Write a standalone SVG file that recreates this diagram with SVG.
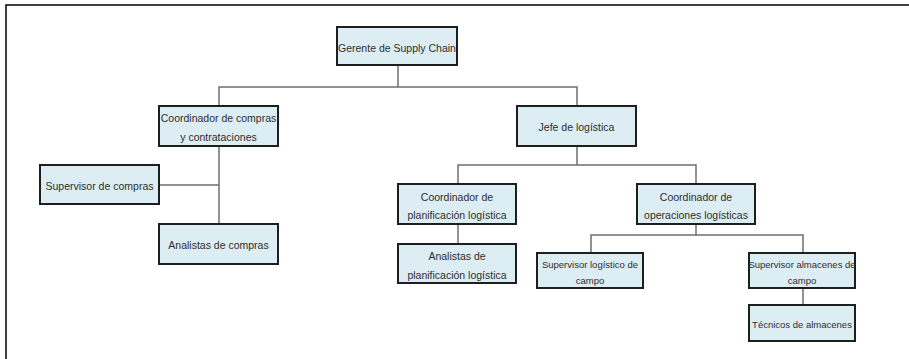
<svg xmlns="http://www.w3.org/2000/svg" width="909" height="359" viewBox="0 0 909 359">
  <style>
    .box { fill: #dcedf3; stroke: #1e1e1e; stroke-width: 2; }
    .lbl { font-family: "Liberation Sans", Arial, sans-serif; font-size: 10.5px; fill: #2e2e2e; text-anchor: middle; }
    .sm { font-size: 9.5px; }
    .conn { fill: none; stroke: #6f6f6f; stroke-width: 1.5; }
    .frame { fill: none; stroke: #000; stroke-width: 1.5; }
  </style>
  <rect width="909" height="359" fill="#fff"/>
  <path class="frame" d="M6,359 V5 H909"/>

  <g id="connectors">
    <path class="conn" d="M398,65 V87 M219,106 V87 H577 V106"/>
    <path class="conn" d="M219,146 V224 M159,185 H219"/>
    <path class="conn" d="M577,146 V165 M458,184 V165 H696 V184"/>
    <path class="conn" d="M458,224 V244"/>
    <path class="conn" d="M696,224 V235 M591,253 V235 H803 V253"/>
    <path class="conn" d="M803,288 V305"/>
  </g>

  <g id="gerente">
    <rect class="box" x="337" y="27" width="120" height="38"/>
    <text class="lbl" x="397" y="51.5">Gerente de Supply Chain</text>
  </g>
  <g id="coord-compras">
    <rect class="box" x="159" y="106" width="119" height="40"/>
    <text class="lbl" x="218.5" y="122">Coordinador de compras</text>
    <text class="lbl" x="218.5" y="141">y contrataciones</text>
  </g>
  <g id="jefe-logistica">
    <rect class="box" x="517" y="106" width="119" height="40"/>
    <text class="lbl" x="576.5" y="130.5">Jefe de logística</text>
  </g>
  <g id="supervisor-compras">
    <rect class="box" x="40" y="165" width="119" height="39"/>
    <text class="lbl" x="99.5" y="190">Supervisor de compras</text>
  </g>
  <g id="analistas-compras">
    <rect class="box" x="159" y="224" width="119" height="40"/>
    <text class="lbl" x="218.5" y="249">Analistas de compras</text>
  </g>
  <g id="coord-planificacion">
    <rect class="box" x="398" y="184" width="118" height="40"/>
    <text class="lbl" x="457" y="200.5">Coordinador de</text>
    <text class="lbl" x="457" y="219">planificación logística</text>
  </g>
  <g id="coord-operaciones">
    <rect class="box" x="637" y="184" width="118" height="40"/>
    <text class="lbl" x="696" y="200.5">Coordinador de</text>
    <text class="lbl" x="696" y="219">operaciones logísticas</text>
  </g>
  <g id="analistas-planificacion">
    <rect class="box" x="398" y="244" width="118" height="39"/>
    <text class="lbl" x="457" y="260">Analistas de</text>
    <text class="lbl" x="457" y="279">planificación logística</text>
  </g>
  <g id="supervisor-logistico">
    <rect class="box" x="537" y="253" width="106" height="35"/>
    <text class="lbl sm" x="590" y="267.5">Supervisor logístico de</text>
    <text class="lbl sm" x="590" y="283.5">campo</text>
  </g>
  <g id="supervisor-almacenes">
    <rect class="box" x="749" y="253" width="106" height="35"/>
    <text class="lbl sm" x="802" y="267.5">Supervisor almacenes de</text>
    <text class="lbl sm" x="802" y="283.5">campo</text>
  </g>
  <g id="tecnicos-almacenes">
    <rect class="box" x="749" y="305" width="106" height="36"/>
    <text class="lbl sm" x="802" y="328">Técnicos de almacenes</text>
  </g>
</svg>
